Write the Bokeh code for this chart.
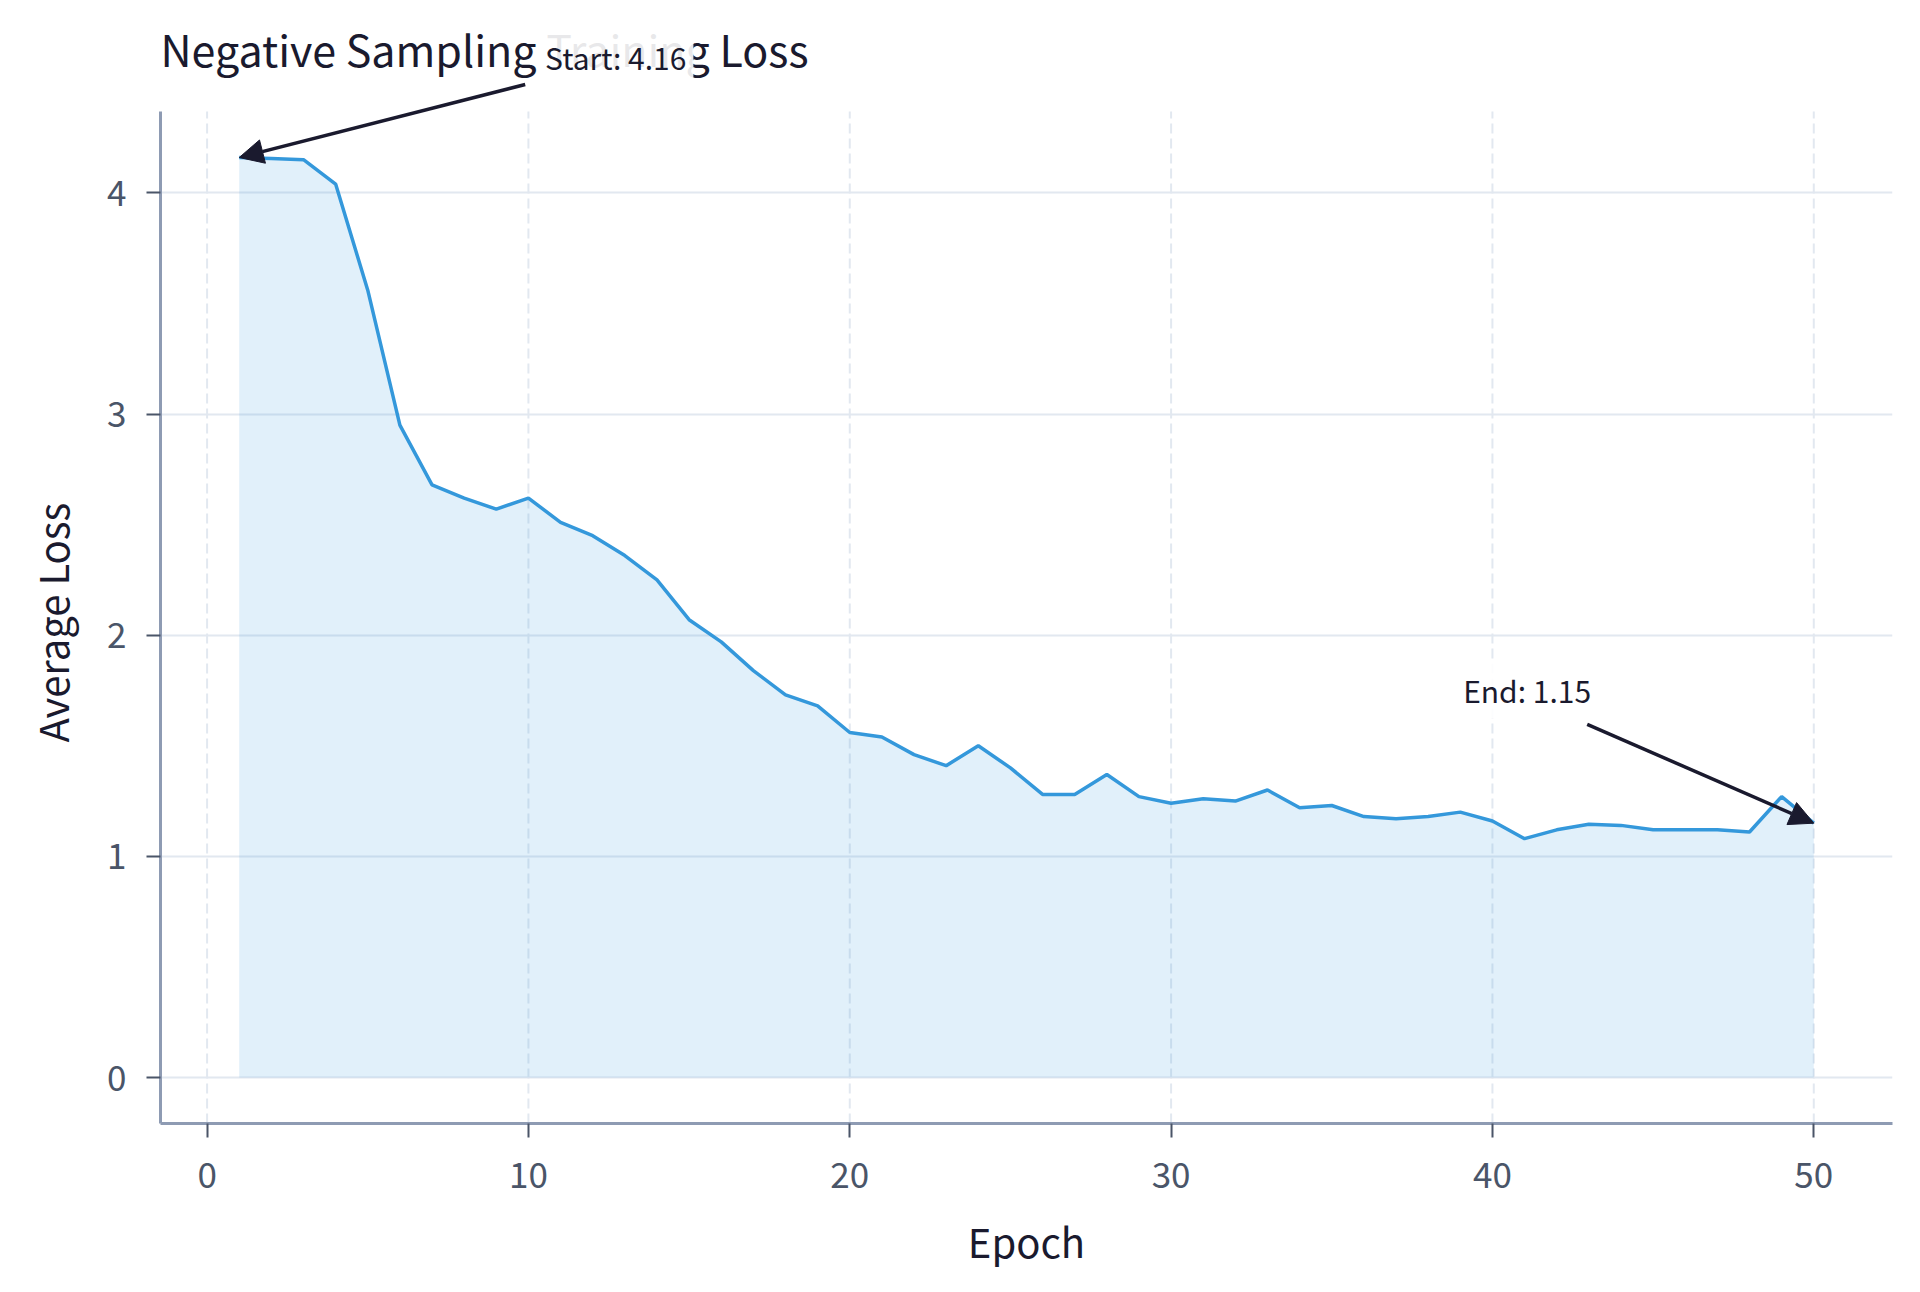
from bokeh.plotting import figure
from bokeh.models import Range1d, FixedTicker, Label, Arrow, NormalHead, Title
from bokeh.embed import file_html
from bokeh.resources import INLINE

# training loss per epoch
epochs = list(range(1, 51))
loss = [4.16, 4.155, 4.15, 4.04, 3.56, 2.95, 2.68, 2.62, 2.57, 2.62,
        2.51, 2.45, 2.36, 2.25, 2.07, 1.97, 1.84, 1.73, 1.68, 1.56,
        1.54, 1.46, 1.41, 1.50, 1.40, 1.28, 1.28, 1.37, 1.27, 1.24,
        1.26, 1.25, 1.30, 1.22, 1.23, 1.18, 1.17, 1.18, 1.20, 1.16,
        1.08, 1.12, 1.145, 1.14, 1.12, 1.12, 1.12, 1.11, 1.27, 1.15]
x_ticks = [0, 10, 20, 30, 40, 50]
y_ticks = [0, 1, 2, 3, 4]

FONT = "Noto Sans CJK KR"
BLUE = "#3498db"
DARK = "#1a1a2e"

# axes limits (matplotlib-style 5% margins); the frame reaches higher so the
# title and the "Start" note, which sit above the axes, are not clipped
X_LO, X_HI = -1.45, 52.45
Y_LO, Y_HI = -0.208, 4.368
Y_TOP = 4.87

p = figure(width=1904, height=1276, output_backend="svg", toolbar_location=None,
           x_range=Range1d(X_LO, X_HI), y_range=Range1d(Y_LO, Y_TOP),
           min_border_left=160, min_border_right=12,
           min_border_top=0, min_border_bottom=153)
p.outline_line_color = None
p.background_fill_color = "white"

# grids: solid horizontal, dashed vertical (stopping at the axes top)
p.ygrid.ticker = FixedTicker(ticks=y_ticks)
p.ygrid.grid_line_color = "#e2e8f0"
p.ygrid.grid_line_width = 2
p.xgrid.visible = False
p.segment(x0=x_ticks, y0=Y_LO, x1=x_ticks, y1=Y_HI,
          line_color="#e2e8f0", line_width=2, line_dash="10 5")

# axes
for ax in (p.xaxis[0], p.yaxis[0]):
    ax.axis_line_color = "#8e9bb3"
    ax.axis_line_width = 3
    ax.major_tick_line_color = "#4a5568"
    ax.major_tick_line_width = 2
    ax.major_tick_out = 14
    ax.major_tick_in = 0
    ax.minor_tick_line_color = None
    ax.major_label_text_font = FONT
    ax.major_label_text_font_size = "35px"
    ax.major_label_text_color = "#4a5568"
    ax.axis_label_text_font = FONT
    ax.axis_label_text_font_size = "40px"
    ax.axis_label_text_font_style = "normal"
    ax.axis_label_text_color = DARK

p.xaxis.ticker = FixedTicker(ticks=x_ticks)
p.yaxis.ticker = FixedTicker(ticks=y_ticks)
p.yaxis.bounds = (Y_LO, Y_HI)
p.xaxis.axis_label = "Epoch"
p.xaxis.major_label_standoff = 24
p.xaxis.axis_label_standoff = 21
p.yaxis.major_label_standoff = 20

# y label as a side title so it centres on the axes, not on the taller frame
p.add_layout(Title(text="Average Loss", align="left", offset=381, standoff=43,
                   vertical_align="top",
                   text_font=FONT, text_font_size="40px",
                   text_font_style="normal", text_color=DARK), "left")

# area + line
p.varea(x=epochs, y1=0, y2=loss, fill_color=BLUE, fill_alpha=0.15)
p.line(epochs, loss, line_color=BLUE, line_width=3.5)

# title
p.add_layout(Label(x=X_LO, y=4.653, text="Negative Sampling Training Loss",
                   text_font=FONT, text_font_size="43px", text_color=DARK,
                   text_baseline="middle", text_align="left"))

# annotations
head = dict(size=24, fill_color=DARK, line_color=DARK)
p.add_layout(Arrow(end=NormalHead(**head),
                   x_start=9.9, y_start=4.49, x_end=epochs[0], y_end=loss[0],
                   line_color=DARK, line_width=3.5))
p.add_layout(Label(x=10.3, y=4.615, text=f"Start: {loss[0]:.2f}",
                   text_font=FONT, text_font_size="30px", text_color=DARK,
                   text_baseline="middle", text_align="left",
                   background_fill_color="white", background_fill_alpha=0.9,
                   padding=7))

p.add_layout(Arrow(end=NormalHead(**head),
                   x_start=42.95, y_start=1.597, x_end=epochs[-1], y_end=loss[-1],
                   line_color=DARK, line_width=3.5))
p.add_layout(Label(x=38.87, y=1.754, text=f"End: {loss[-1]:.2f}",
                   text_font=FONT, text_font_size="30px", text_color=DARK,
                   text_baseline="middle", text_align="left",
                   background_fill_color="white", background_fill_alpha=0.9,
                   padding=7))

open("out.html", "w").write(file_html(p, INLINE))
